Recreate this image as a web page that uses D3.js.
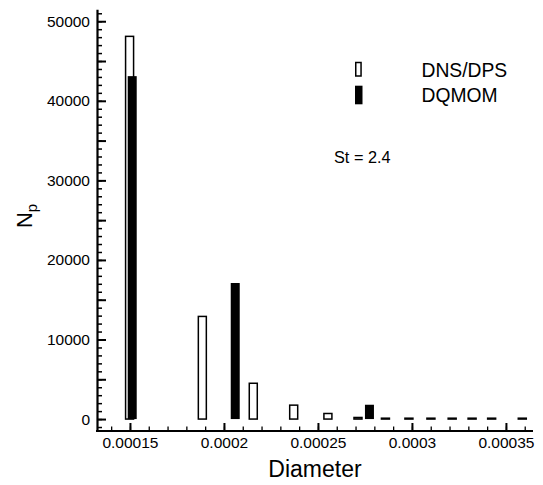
<!DOCTYPE html>
<html>
<head>
<meta charset="utf-8">
<script src="https://cdn.jsdelivr.net/npm/d3@7"></script>
<style>
  html, body { margin: 0; padding: 0; background: #fff; }
  svg { display: block; font-family: "Liberation Sans", Arial, Helvetica, sans-serif; }
</style>
</head>
<body>
<svg id="chart" width="543" height="485"></svg>
<script>
// ---- data ----
const dnsDiameter = [0.0001498, 0.0001885, 0.0002156, 0.0002371, 0.0002553, 0.0002713,
                     0.0002859, 0.0002984, 0.0003101, 0.0003214, 0.0003320, 0.0003424, 0.0003587];
const dnsCount    = [48100, 12900, 4500, 1750, 700, 200,
                     110, 110, 110, 110, 110, 110, 110];
const dqmomDiameter = [0.0001512, 0.0002060, 0.0002774];
const dqmomCount    = [43100, 17100, 1800];
const xTickLabels = [0.00015, 0.0002, 0.00025, 0.0003, 0.00035];
const yTickLabels = [0, 10000, 20000, 30000, 40000, 50000];
const legendLabels = ["DNS/DPS", "DQMOM"];
const annotation = "St = 2.4";
const xTitle = "Diameter";

// ---- layout ----
const svg = d3.select("#chart");
const mLeft = 97, mRight = 533, mTop = 9.3, mBottom = 431;

const x = d3.scaleLinear().domain([0.000133, 0.0003644]).range([mLeft + 1, mRight]);
const y = d3.scaleLinear().domain([-1500, 51500]).range([mBottom, mTop]);

const whiteW = 8, blackW = 9;

// DNS bars (open)
svg.append("g").selectAll("rect")
  .data(d3.zip(dnsDiameter, dnsCount))
  .join("rect")
  .attr("x", d => x(d[0]) - whiteW / 2)
  .attr("y", d => y(d[1]))
  .attr("width", whiteW)
  .attr("height", d => y(0) - y(d[1]))
  .attr("fill", "#fff")
  .attr("stroke", "#000")
  .attr("stroke-width", 1.5);

// DQMOM bars (filled)
svg.append("g").selectAll("rect")
  .data(d3.zip(dqmomDiameter, dqmomCount))
  .join("rect")
  .attr("x", d => x(d[0]) - blackW / 2)
  .attr("y", d => y(d[1]))
  .attr("width", blackW)
  .attr("height", d => y(0) - y(d[1]))
  .attr("fill", "#000");

// ---- axes ----
const tickFont = "15.5px";

// y axis minor ticks
svg.append("g").attr("transform", `translate(${mLeft},0)`)
  .call(d3.axisLeft(y).tickValues(d3.range(-1000, 51001, 1000)).tickSize(-5).tickSizeOuter(0).tickFormat(""))
  .call(g => g.select(".domain").remove())
  .call(g => g.selectAll("line").attr("stroke", "#000").attr("stroke-width", 1.5));
// y axis major ticks and labels
svg.append("g").attr("transform", `translate(${mLeft},0)`)
  .call(d3.axisLeft(y).tickValues(d3.range(0, 50001, 5000)).tickSize(-9).tickSizeOuter(0).tickPadding(7)
        .tickFormat(d => yTickLabels.includes(d) ? d3.format("d")(d) : ""))
  .call(g => g.select(".domain").attr("stroke", "#000").attr("stroke-width", 2.2))
  .call(g => g.selectAll("line").attr("stroke", "#000").attr("stroke-width", 2))
  .call(g => g.selectAll("text").attr("fill", "#000").style("font-size", tickFont));

// x axis minor ticks
svg.append("g").attr("transform", `translate(0,${mBottom})`)
  .call(d3.axisBottom(x).tickValues(d3.range(14, 37).map(v => v * 1e-5)).tickSize(-4.5).tickSizeOuter(0).tickFormat(""))
  .call(g => g.select(".domain").remove())
  .call(g => g.selectAll("line").attr("stroke", "#000").attr("stroke-width", 1.3));
// x axis major ticks and labels
svg.append("g").attr("transform", `translate(0,${mBottom})`)
  .call(d3.axisBottom(x).tickValues(xTickLabels).tickSize(-8).tickSizeOuter(0).tickPadding(5.5)
        .tickFormat(d => String(+d.toPrecision(6))))
  .call(g => g.select(".domain").attr("stroke", "#000").attr("stroke-width", 2.2)
        .attr("d", `M${mLeft - 1},0H${mRight}`))
  .call(g => g.selectAll("line").attr("stroke", "#000").attr("stroke-width", 2))
  .call(g => g.selectAll("text").attr("fill", "#000").style("font-size", tickFont));

// axis titles
svg.append("text")
  .attr("x", (mLeft + mRight) / 2).attr("y", 476.5)
  .attr("text-anchor", "middle")
  .style("font-size", "23px")
  .text(xTitle);

const yt = svg.append("text")
  .attr("transform", "translate(32,216) rotate(-90)")
  .attr("text-anchor", "middle")
  .style("font-size", "22px");
yt.append("tspan").text("N");
yt.append("tspan").attr("dy", "0.3em").style("font-size", "15px").text("p");

// legend
const lg = svg.append("g");
lg.append("rect").attr("x", 355.75).attr("y", 62.5).attr("width", 5.3).attr("height", 13.5)
  .attr("fill", "#fff").attr("stroke", "#000").attr("stroke-width", 1.5);
lg.append("rect").attr("x", 355).attr("y", 85.7).attr("width", 7.5).attr("height", 18.6)
  .attr("fill", "#000");
lg.selectAll("text.lab").data(legendLabels).join("text")
  .attr("class", "lab")
  .attr("x", 421.5)
  .attr("y", (d, i) => 76.7 + i * 24.8)
  .style("font-size", "19.3px")
  .text(d => d);

// annotation
svg.append("text")
  .attr("x", 334).attr("y", 163.3)
  .style("font-size", "16.3px")
  .text(annotation);
</script>
</body>
</html>
